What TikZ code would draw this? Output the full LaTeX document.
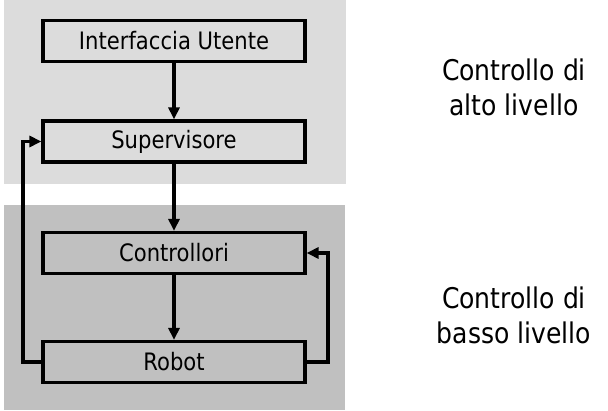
\documentclass[tikz,border=0pt]{standalone}
\usepackage{fontspec}
\setmainfont{DejaVu Sans}[FakeStretch=0.88]
\usetikzlibrary{arrows.meta}
\definecolor{topbg}{HTML}{DCDCDC}
\definecolor{botbg}{HTML}{C0C0C0}
\begin{document}
\begin{tikzpicture}[x=1pt,y=-1pt,
  blk/.style={draw=black,line width=3.2pt,minimum width=262pt,minimum height=41pt,inner sep=0pt,font=\fontsize{24}{28}\selectfont},
  conn/.style={line width=3.2pt,-{Triangle[length=12pt,width=11pt]}},
  lbl/.style={align=center,font=\fontsize{28.5}{35}\selectfont}]
\useasboundingbox (0,0) rectangle (608,411);
\fill[topbg] (4,0) rectangle (346,184);
\fill[botbg] (4,205) rectangle (345,410);
\node[blk,fill=topbg] (ui) at (174,41) {Interfaccia Utente};
\node[blk,fill=topbg] (sup) at (174,141.5) {Supervisore};
\node[blk,fill=botbg] (ctr) at (174,253) {Controllori};
\node[blk,fill=botbg] (rob) at (174,362) {Robot};
\coordinate (lft) at (23,0);
\coordinate (rgt) at (328,0);
\draw[conn] (ui) -- (sup);
\draw[conn] (sup) -- (ctr);
\draw[conn] (ctr) -- (rob);
\draw[conn] (rob.west) -- (lft |- rob.west) -- (lft |- sup.west) -- (sup.west);
\draw[conn] (rob.east) -- (rgt |- rob.east) -- (rgt |- ctr.east) -- (ctr.east);
\node[lbl] (hi) at (514,87) {Controllo di\\alto livello};
\node[lbl] (lo) at (514,315) {Controllo di\\basso livello};
\end{tikzpicture}
\end{document}
